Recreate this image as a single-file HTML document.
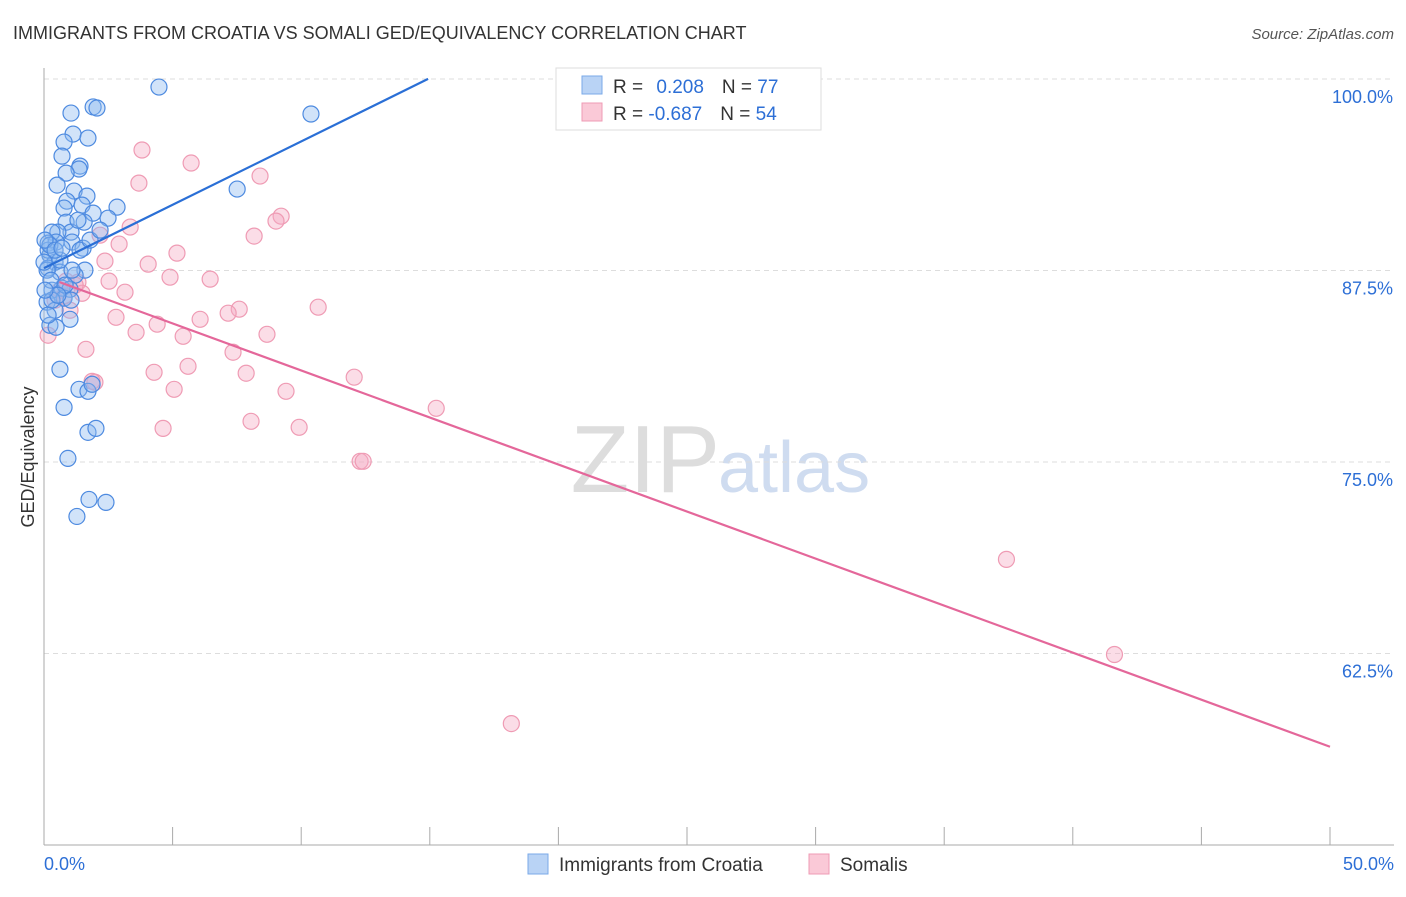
<!DOCTYPE html>
<html><head><meta charset="utf-8"><style>
body{margin:0;background:#fff;font-family:"Liberation Sans",sans-serif}
svg text{font-family:"Liberation Sans",sans-serif}
</style></head><body>
<svg id="c" width="1406" height="892">
<text x="13" y="39" font-size="18" fill="#333">IMMIGRANTS FROM CROATIA VS SOMALI GED/EQUIVALENCY CORRELATION CHART</text>
<text x="1394" y="39" font-size="15" fill="#555" font-style="italic" text-anchor="end">Source: ZipAtlas.com</text>
<text x="720" y="492" font-size="96" fill="#ddd" text-anchor="end" font-family="Liberation Serif">ZIP</text>
<text x="718" y="492" font-size="72" fill="#cfdcf0">atlas</text>
<text transform="translate(34,457) rotate(-90)" font-size="18" fill="#333" text-anchor="middle">GED/Equivalency</text>
<g id="grid"></g><g id="pts"></g><g id="trend"></g>
<g>
<rect x="556" y="68" width="265" height="62" fill="#fff" stroke="#ddd"/>
<rect x="582" y="76" width="20" height="18" fill="#b9d3f5" stroke="#7aa9e8"/>
<rect x="582" y="103" width="20" height="18" fill="#fac9d7" stroke="#ef9bb4"/>
<text x="613" y="93" font-size="19" fill="#333">R = <tspan fill="#2d6fd6" dx="8">0.208</tspan><tspan dx="18">N = </tspan><tspan fill="#2d6fd6">77</tspan></text>
<text x="613" y="120" font-size="19" fill="#333">R = <tspan fill="#2d6fd6">-0.687</tspan><tspan dx="18">N = </tspan><tspan fill="#2d6fd6">54</tspan></text>
</g>
<g>
<rect x="528" y="854" width="20" height="20" fill="#b9d3f5" stroke="#7aa9e8"/>
<text x="559" y="871" font-size="19" fill="#333">Immigrants from Croatia</text>
<rect x="809" y="854" width="20" height="20" fill="#fac9d7" stroke="#ef9bb4"/>
<text x="840" y="871" font-size="19" fill="#333">Somalis</text>
</g>
</svg>
<script>
const xTicks=[0,5,10,15,20,25,30,35,40,45,50];
const yTicks=[100,87.5,75,62.5];
const blueX=[4.47,1.05,1.91,2.06,10.38,1.13,1.71,0.78,0.70,1.40,1.36,0.86,0.51,1.17,1.67,0.89,0.78,1.48,7.51,2.84,2.49,1.91,0.86,1.56,1.05,0.54,0.31,0.16,0.47,1.09,1.52,1.40,0.23,0.43,0.16,0.62,1.59,1.21,0.70,1.01,0.31,0.78,1.05,0.12,0.43,1.01,0.23,0.47,0.62,0.78,1.36,1.71,1.87,1.71,2.02,0.93,1.75,2.41,1.28,0.16,0.23,0.04,0.12,0.27,0.62,1.79,0.31,0.16,1.09,0.82,0.54,0.04,0.43,0.70,0,2.18,1.32];
const blueY=[100.65,98.95,99.35,99.28,98.89,97.58,97.32,97.06,96.14,95.49,95.30,95.03,94.25,93.86,93.53,93.20,92.75,92.94,93.99,92.81,92.09,92.42,91.83,91.83,91.18,91.18,91.18,90.46,90.53,90.53,90.13,90.00,89.68,89.22,88.83,88.57,88.70,88.37,87.52,87.45,87.39,86.87,86.74,86.61,86.08,85.49,85.10,84.97,82.23,79.74,80.92,80.79,81.25,78.11,78.37,76.41,73.73,73.54,72.62,90.00,90.33,90.66,88.70,88.04,89.35,90.66,86.74,85.76,88.70,87.72,87.06,87.39,90.00,90.13,89.22,91.31,91.96];
const pinkX=[3.81,5.72,8.40,3.69,9.22,9.02,3.35,2.18,8.17,2.92,5.17,2.37,4.05,4.90,6.46,2.53,3.15,0.86,1.32,1.48,10.66,7.59,7.16,6.07,2.80,4.40,3.58,5.41,8.67,1.63,7.35,5.60,4.28,7.86,12.06,5.06,9.41,1.98,1.87,15.25,4.63,8.05,9.92,12.29,12.41,37.42,41.62,18.17,0.16,0.62,0.43,1.01,1.21,0.78];
const pinkY=[96.54,95.69,94.84,94.38,92.22,91.90,91.51,90.98,90.92,90.40,89.81,89.29,89.09,88.24,88.11,87.98,87.26,87.98,87.91,87.19,86.28,86.15,85.89,85.49,85.62,85.17,84.64,84.38,84.51,83.53,83.34,82.42,82.03,81.97,81.71,80.92,80.79,81.38,81.44,79.68,78.37,78.83,78.44,76.22,76.22,69.82,63.61,59.10,84.45,87.39,86.74,86.08,87.72,87.00];
const trendIntercept=[88.83,88.29];
const trendSlope=[0.827,-0.614];
const NS="http://www.w3.org/2000/svg";
const xS=v=>44+v/50*1286;
const yS=v=>97+(100-v)/12.5*191.5;
function mk(tag,attrs,parent){const e=document.createElementNS(NS,tag);for(const k in attrs)e.setAttribute(k,attrs[k]);parent.appendChild(e);return e;}
const grid=document.getElementById('grid');
yTicks.forEach(t=>{
 const gl=mk('line',{x1:44,x2:1394,y1:yS(t)-18,y2:yS(t)-18,stroke:'#ddd','stroke-dasharray':'5,4'},grid);
 
 
 const tx=mk('text',{x:1393,y:yS(t)+6,'font-size':18,fill:'#2d6fd6','text-anchor':'end'},grid);
 tx.textContent=t.toFixed(1)+'%';
 
 
});
const ax=mk('line',{x1:44,x2:44,y1:68,y2:845,stroke:'#aaa'},grid);


const bx=mk('line',{x1:44,x2:1394,y1:845,y2:845,stroke:'#aaa'},grid);


xTicks.forEach(t=>{
 const tk=mk('line',{x1:xS(t),x2:xS(t),y1:827,y2:845,stroke:'#aaa'},grid);
 
 
});
[[0,'start'],[50,'end']].forEach(([t,a])=>{
 const tx=mk('text',{x:t===0?44:1394,y:870,'font-size':18,fill:'#2d6fd6','text-anchor':a},grid);
 tx.textContent=t.toFixed(1)+'%';
 
 
});
const pts=document.getElementById('pts');
pinkX.forEach((x,i)=>{
 const c=mk('circle',{cx:xS(x),cy:yS(pinkY[i]),r:8,fill:'rgba(246,170,195,0.4)',stroke:'#ef9bb4','stroke-width':1.2},pts);
 
 
});
blueX.forEach((x,i)=>{
 const c=mk('circle',{cx:xS(x),cy:yS(blueY[i]),r:8,fill:'rgba(140,185,240,0.4)',stroke:'#4d8ae0','stroke-width':1.2},pts);
 
 
});
const tr=document.getElementById('trend');
const bEnd=(101.18-trendIntercept[0])/trendSlope[0];
const l1=mk('line',{x1:xS(0),y1:yS(trendIntercept[0]),x2:xS(bEnd),y2:yS(trendIntercept[0]+trendSlope[0]*bEnd),stroke:'#2a6fd6','stroke-width':2.2},tr);


const l2=mk('line',{x1:xS(0.6),y1:yS(trendIntercept[1]+trendSlope[1]*0.6),x2:xS(50),y2:yS(trendIntercept[1]+trendSlope[1]*50),stroke:'#e4679a','stroke-width':2.2},tr);


</script>
</body></html>
